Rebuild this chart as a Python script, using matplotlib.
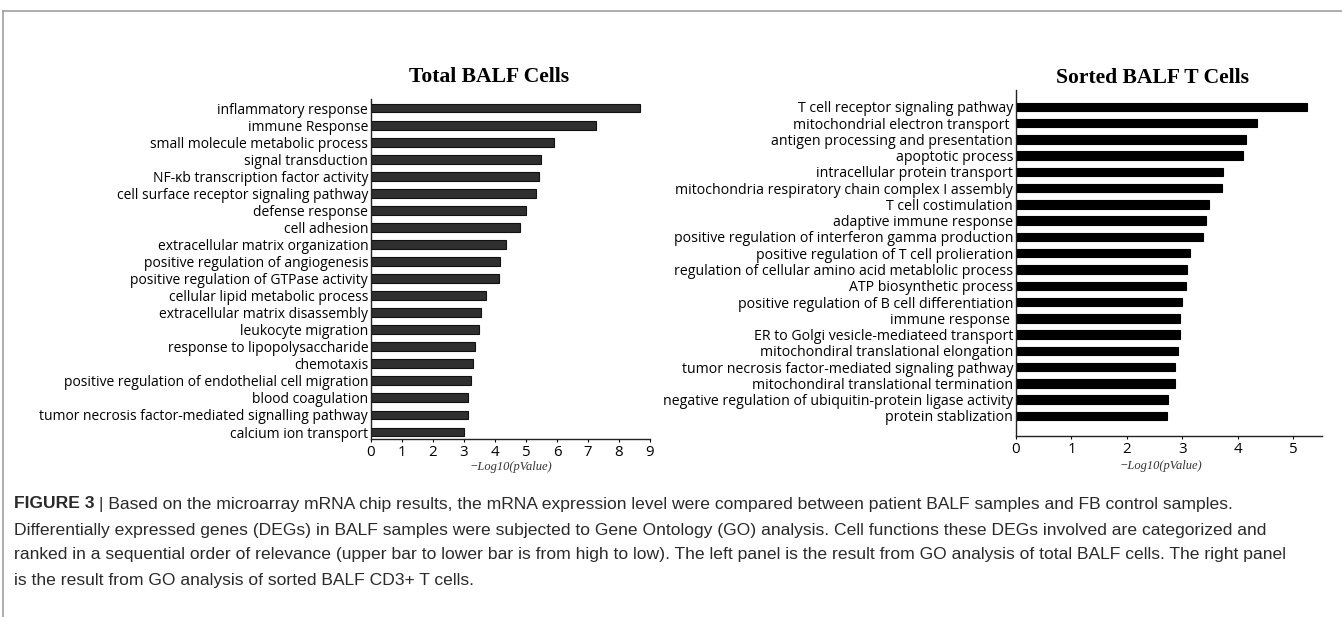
import matplotlib
matplotlib.use('Agg')
import matplotlib.pyplot as plt
from matplotlib.lines import Line2D
from matplotlib.text import Annotation

# GO terms, total BALF cells (top to bottom)
total_terms = [
    'inflammatory response', 'immune Response', 'small molecule metabolic process',
    'signal transduction', 'NF-\u03bab transcription factor activity',
    'cell surface receptor signaling pathway', 'defense response', 'cell adhesion',
    'extracellular matrix organization', 'positive regulation of angiogenesis',
    'positive regulation of GTPase activity', 'cellular lipid metabolic process',
    'extracellular matrix disassembly', 'leukocyte migration',
    'response to lipopolysaccharide', 'chemotaxis',
    'positive regulation of endothelial cell migration', 'blood coagulation',
    'tumor necrosis factor-mediated signalling pathway', 'calcium ion transport',
]
total_logp = [8.68, 7.26, 5.90, 5.49, 5.42, 5.32, 5.00, 4.82, 4.37, 4.16,
              4.14, 3.71, 3.56, 3.49, 3.37, 3.29, 3.23, 3.14, 3.12, 3.00]

# GO terms, sorted BALF T cells
tcell_terms = [
    'T cell receptor signaling pathway', 'mitochondrial electron transport ',
    'antigen processing and presentation', 'apoptotic process',
    'intracellular protein transport', 'mitochondria respiratory chain complex I assembly',
    'T cell costimulation', 'adaptive immune response',
    'positive regulation of interferon gamma production',
    'positive regulation of T cell prolieration',
    'regulation of cellular amino acid metablolic process', 'ATP biosynthetic process',
    'positive regulation of B cell differentiation', 'immune response ',
    'ER to Golgi vesicle-mediateed transport', 'mitochondiral translational elongation',
    'tumor necrosis factor-mediated signaling pathway',
    'mitochondiral translational termination',
    'negative regulation of ubiquitin-protein ligase activity', 'protein stablization',
]
tcell_logp = [5.25, 4.35, 4.15, 4.10, 3.74, 3.72, 3.49, 3.42, 3.38, 3.13,
              3.08, 3.07, 3.00, 2.95, 2.95, 2.93, 2.87, 2.86, 2.75, 2.72]

total_ticks = list(range(0, 10))
tcell_ticks = list(range(0, 6))

caption_lines = [
    ' | Based on the microarray mRNA chip results, the mRNA expression level were compared between patient BALF samples and FB control samples.',
    'Differentially expressed genes (DEGs) in BALF samples were subjected to Gene Ontology (GO) analysis. Cell functions these DEGs involved are categorized and',
    'ranked in a sequential order of relevance (upper bar to lower bar is from high to low). The left panel is the result from GO analysis of total BALF cells. The right panel',
    'is the result from GO analysis of sorted BALF CD3+ T cells.',
]

LABEL_FONT = 'Open Sans'
W, H = 1342, 617

fig = plt.figure(figsize=(W / 100, H / 100), dpi=100)


def fx(px):
    return px / W


def fy(py):
    return 1 - py / H


def panel(rect, terms, values, ticks, xmax, ylim, color, edge, height, label_size):
    ax = fig.add_axes(rect)
    pos = list(range(len(terms)))
    ax.barh(pos, values, height=height, color=color, edgecolor=edge, linewidth=0.8)
    ax.set_ylim(*ylim)
    ax.set_xlim(0, xmax)
    ax.set_yticks(pos)
    ax.set_yticklabels(terms, fontfamily=LABEL_FONT, fontsize=label_size)
    ax.set_xticks(ticks)
    ax.set_xticklabels([str(t) for t in ticks], fontfamily=LABEL_FONT, fontsize=10.8)
    ax.tick_params(axis='y', length=0, pad=2)
    ax.tick_params(axis='x', length=2, width=0.8, pad=2)
    for side in ('top', 'right'):
        ax.spines[side].set_visible(False)
    for side in ('left', 'bottom'):
        ax.spines[side].set_linewidth(1.0)
        ax.spines[side].set_color('#222222')
    return ax


panel([fx(371), fy(439), fx(650) - fx(371), fy(99) - fy(439)],
      total_terms, total_logp, total_ticks, 9.0, (19.41, -0.53),
      '#2f2f2f', '#111111', 0.52, 10.0)
panel([fx(1016), fy(436), fx(1322) - fx(1016), fy(90) - fy(436)],
      tcell_terms, tcell_logp, tcell_ticks, 5.52, (20.23, -1.03),
      '#000000', '#000000', 0.52, 10.2)

# panel titles and axis labels
title_kw = dict(fontfamily='Liberation Serif', fontweight='bold', fontsize=15.6,
                ha='center', va='center')
fig.text(fx(489), fy(77), 'Total BALF Cells', **title_kw)
fig.text(fx(1152), fy(78), 'Sorted BALF T Cells', **title_kw)

xlab_kw = dict(fontfamily='Liberation Serif', fontstyle='italic', fontsize=9,
               ha='center', va='center', color='#333333')
fig.text(fx(511), fy(467), '\u2212Log10(pValue)', **xlab_kw)
fig.text(fx(1161), fy(466), '\u2212Log10(pValue)', **xlab_kw)

# frame around the figure block
fig.add_artist(Line2D([fx(3), 1], [fy(11), fy(11)], color='#a0a0a0', lw=1.2))
fig.add_artist(Line2D([fx(3), fx(3)], [fy(11), 0], color='#a0a0a0', lw=1.2))

# caption: bold figure number followed by the running text
cap_kw = dict(fontfamily='Liberation Sans', fontsize=12.6, color='#2a2a2a')
line_y = [504, 530, 555, 581]
head = fig.text(fx(14), fy(line_y[0]), 'FIGURE 3', fontweight='bold', va='center', **cap_kw)
fig.add_artist(Annotation(caption_lines[0], xy=(1, 0.5), xycoords=head,
                          va='center', ha='left', **cap_kw))
for y, line in zip(line_y[1:], caption_lines[1:]):
    fig.text(fx(14), fy(y), line, va='center', **cap_kw)

fig.savefig('out.png', dpi=100)
